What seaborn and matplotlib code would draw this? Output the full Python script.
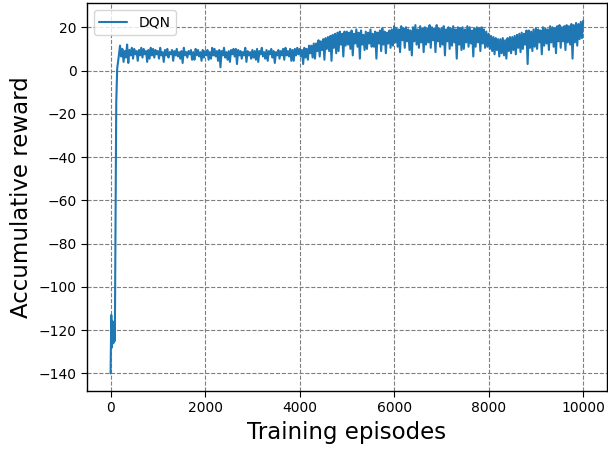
import numpy as np
import pandas as pd
import matplotlib
matplotlib.use("Agg")
import matplotlib.pyplot as plt
import seaborn as sns

# ---- data ----
early_episodes = [0, 15, 30, 45, 60, 75, 90, 105, 120, 140, 170]
early_rewards = [-140, -113, -128, -116, -126, -118, -125, -70, -15, 1, 6]

later_episodes = list(range(200, 10001, 25))
rewards_200_975 = [11.5, 6.5, 10, 4, 9, 6, 12, 3.5, 9.5, 7, 10.5, 5.5, 10, 7.5, 9, 4.5,
                   9.5, 7, 10.5, 6, 10, 7.5, 9, 4, 9.5, 5.5, 10.5, 7, 10, 6, 9.5, 7.5]
rewards_1000s = [9, 5.5, 10.5, 7, 8.5, 4, 9.5, 7, 10, 6, 8.5, 7.5, 9.5, 4.5, 9, 7, 10, 6.5, 8.5, 5.5,
                 9, 3.5, 10.5, 7, 8.5, 6, 9, 7.5, 9.5, 5, 8.5, 5, 10, 7, 9.5, 6.5, 8.5, 4.5, 9.5, 6]
rewards_2000s = [9, 7, 9.5, 5, 8.5, 5.5, 10.5, 7, 10, 6.5, 9, 4.5, 9.5, 1.5, 9, 7, 10.5, 6, 8.5, 5,
                 9, 4, 9.5, 7.5, 10, 6.5, 10, 3, 9.5, 7, 9, 5.5, 8.5, 7, 10.5, 4, 9, 7, 8.5, 5.5]
rewards_3000s = [9.5, 6, 9, 5, 10, 4, 9, 7.5, 10.5, 6.5, 8.5, 5.5, 9.5, 4.5, 9, 7.5, 10, 6, 9, 3.5,
                 8.5, 7, 9.5, 5.5, 9, 7, 10, 5, 10.5, 7, 9, 6.5, 10, 4.5, 9.5, 4.5, 10, 7, 10.5, 7.5]
rewards_4000s = [10, 6.5, 9.5, 3, 10.5, 6, 10, 5, 11.5, 8, 11.5, 6, 12.5, 5.5, 12.5, 9, 14, 6.5, 13.5, 9.5,
                 14.5, 5, 15, 10, 15.5, 9, 16, 4.5, 16.5, 10.5, 17, 8, 17.5, 9, 18, 12, 17, 6.5, 18, 11.5]
rewards_5000s = [18, 12, 17.5, 10, 18.5, 7, 17, 12.5, 19, 11, 17.5, 5.5, 18.5, 12, 16.5, 9.5, 18, 10, 17.5, 12.5,
                 19, 11, 17, 11, 18, 5.5, 17.5, 12.5, 18.5, 9, 19.5, 12, 18, 8, 17.5, 12.5, 18.5, 10.5, 19, 11.5]
rewards_6000s = [20.5, 13, 19.5, 11, 19, 8.5, 20.5, 14, 19.5, 10.5, 20, 13.5, 19, 9.5, 18.5, 7, 20, 13.5, 21, 12,
                 19, 10.5, 20.5, 13, 19.5, 8.5, 20, 12, 19.5, 13, 21, 10.5, 20, 14, 19.5, 8.5, 21, 13.5, 19.5, 11]
rewards_7000s = [19.5, 12, 20.5, 7, 19, 13.5, 20, 10, 19.5, 11.5, 20.5, 13, 19, 5.5, 20, 12, 19.5, 9.5, 20, 10,
                 19, 13, 20.5, 11, 20, 12.5, 18.5, 6.5, 19.5, 11, 20, 13, 19.5, 9, 20, 12.5, 19, 10.5, 18, 11]
rewards_8000s = [17, 10, 16, 9, 15.5, 7.5, 15, 9.5, 14.5, 6.5, 14.5, 8, 15, 7, 14, 5.5, 15, 9, 15.5, 8,
                 15.5, 9.5, 16, 7.5, 16.5, 10.5, 17, 8.5, 17.5, 10, 17, 12, 18.5, 3, 18.5, 10.5, 18, 9, 19, 11]
rewards_9000s = [19.5, 10, 19, 13, 18.5, 7.5, 20, 11.5, 19.5, 12.5, 19, 9.5, 20.5, 13, 20, 11, 19.5, 8, 20.5, 13.5,
                 21, 10.5, 20, 13.5, 20.5, 9.5, 21, 13, 20.5, 12, 21.5, 5.5, 21, 13, 22, 11.5, 21.5, 14.5, 22.5, 15]
rewards_10000 = [23]

series_label = "DQN"
x_label = "Training episodes"
y_label = "Accumulative reward"

later_rewards = (rewards_200_975 + rewards_1000s + rewards_2000s + rewards_3000s +
                 rewards_4000s + rewards_5000s + rewards_6000s + rewards_7000s +
                 rewards_8000s + rewards_9000s + rewards_10000)

df = pd.DataFrame({
    "episode": early_episodes + later_episodes,
    "reward": early_rewards + later_rewards,
    "method": series_label,
})

sns.set_style("ticks")
plt.rcParams["font.family"] = ["DejaVu Sans"]
plt.rcParams["text.color"] = "black"
plt.rcParams["axes.labelcolor"] = "black"
plt.rcParams["xtick.color"] = "black"
plt.rcParams["ytick.color"] = "black"

fig, ax = plt.subplots(figsize=(6.08, 4.49), dpi=100)
fig.subplots_adjust(left=0.143, right=0.998, bottom=0.129, top=0.993)

sns.lineplot(data=df, x="episode", y="reward", hue="method", estimator=None,
             sort=False, palette=["#1f77b4"], linewidth=1.5, ax=ax)

ax.grid(True, color="#7f7f7f", linestyle="--", linewidth=0.8)
ax.set_axisbelow(True)
for s in ax.spines.values():
    s.set_color("black")
    s.set_linewidth(1.0)
ax.tick_params(labelsize=10, colors="black", direction="out", length=4)
ax.set_xticks([0, 2000, 4000, 6000, 8000, 10000])
ax.set_yticks(list(range(-140, 21, 20)))
ax.set_xlabel(x_label, fontsize=16.5, color="black")
ax.set_ylabel(y_label, fontsize=16.5, color="black")
leg = ax.legend(loc="upper left", fontsize=10, title=None, frameon=True)
for t in leg.get_texts():
    t.set_color("black")

fig.savefig("out.png", dpi=100)
